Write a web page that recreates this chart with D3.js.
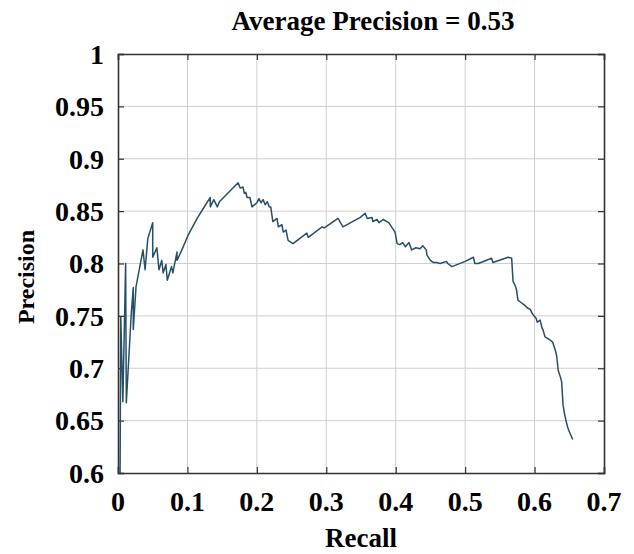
<!DOCTYPE html>
<html>
<head>
<meta charset="utf-8">
<script src="https://cdn.jsdelivr.net/npm/d3@7"></script>
<style>
  html, body { margin: 0; padding: 0; background: #fff; }
  text { font-family: "Liberation Serif", "Times New Roman", serif; font-weight: bold; fill: #000; }
</style>
</head>
<body>
<svg id="chart" width="634" height="554"></svg>
<script>
const title = "Average Precision = 0.53";
const xLabel = "Recall";
const yLabel = "Precision";
const xTicks = [0, 0.1, 0.2, 0.3, 0.4, 0.5, 0.6, 0.7];
const yTicks = [0.6, 0.65, 0.7, 0.75, 0.8, 0.85, 0.9, 0.95, 1];

const recall = [
  0.003, 0.004, 0.007, 0.011, 0.012, 0.019, 0.022, 0.022, 0.026, 0.036,
  0.039, 0.043, 0.050, 0.050, 0.056, 0.059, 0.063, 0.065, 0.069, 0.071,
  0.077, 0.079, 0.085, 0.085, 0.092, 0.101, 0.114, 0.128, 0.133, 0.133,
  0.138, 0.143, 0.146, 0.173, 0.176, 0.180, 0.182, 0.184, 0.186, 0.190,
  0.193, 0.200, 0.203, 0.206, 0.209, 0.212, 0.215, 0.218, 0.220, 0.223,
  0.229, 0.231, 0.236, 0.238, 0.242, 0.245, 0.252, 0.272, 0.274, 0.294,
  0.297, 0.317, 0.324, 0.349, 0.356, 0.359, 0.366, 0.367, 0.373, 0.376,
  0.382, 0.390, 0.394, 0.399, 0.402, 0.406, 0.410, 0.414, 0.419, 0.423,
  0.429, 0.435, 0.439, 0.444, 0.445, 0.450, 0.454, 0.459, 0.464, 0.473,
  0.475, 0.481, 0.500, 0.512, 0.514, 0.519, 0.538, 0.540, 0.562, 0.567,
  0.569, 0.572, 0.574, 0.576, 0.580, 0.586, 0.589, 0.594, 0.596, 0.598,
  0.602, 0.604, 0.608, 0.611, 0.612, 0.615, 0.622, 0.626, 0.630, 0.632,
  0.634, 0.637, 0.639, 0.641, 0.643, 0.646, 0.648, 0.651, 0.655
];
const precision = [
  0.600, 0.749, 0.668, 0.800, 0.667, 0.751, 0.777, 0.737, 0.778, 0.813,
  0.794, 0.824, 0.839, 0.806, 0.815, 0.794, 0.803, 0.791, 0.799, 0.784,
  0.797, 0.791, 0.811, 0.803, 0.813, 0.827, 0.843, 0.858, 0.863, 0.854,
  0.861, 0.854, 0.859, 0.877, 0.872, 0.873, 0.867, 0.868, 0.863, 0.863,
  0.854, 0.858, 0.862, 0.858, 0.861, 0.856, 0.859, 0.854, 0.854, 0.840,
  0.843, 0.835, 0.837, 0.830, 0.832, 0.822, 0.819, 0.829, 0.825, 0.835,
  0.834, 0.843, 0.835, 0.844, 0.848, 0.843, 0.844, 0.840, 0.842, 0.839,
  0.842, 0.839, 0.835, 0.830, 0.819, 0.818, 0.820, 0.816, 0.820, 0.813,
  0.815, 0.814, 0.817, 0.813, 0.808, 0.803, 0.801, 0.801, 0.800, 0.802,
  0.800, 0.797, 0.802, 0.806, 0.800, 0.800, 0.805, 0.801, 0.806, 0.805,
  0.783, 0.779, 0.775, 0.765, 0.763, 0.760, 0.758, 0.756, 0.753, 0.751,
  0.748, 0.744, 0.746, 0.738, 0.737, 0.730, 0.727, 0.725, 0.717, 0.711,
  0.698, 0.692, 0.687, 0.665, 0.657, 0.648, 0.643, 0.638, 0.632
];

const svg = d3.select("#chart");
const W = 634, H = 554;
const margin = { top: 54, right: 30, bottom: 81, left: 118 };
const iw = W - margin.left - margin.right;
const ih = H - margin.top - margin.bottom;

const x = d3.scaleLinear().domain([0, 0.7]).range([margin.left, margin.left + iw]);
const y = d3.scaleLinear().domain([0.6, 1]).range([margin.top + ih, margin.top]);

const fmt = d => d3.format("")(+d.toFixed(2));

// grid
const grid = svg.append("g");
grid.selectAll(".gx").data(xTicks.slice(1, -1)).join("line")
  .attr("x1", d => x(d)).attr("x2", d => x(d))
  .attr("y1", y(0.6)).attr("y2", y(1))
  .attr("stroke", "#cfcfcf").attr("stroke-width", 1);
grid.selectAll(".gy").data(yTicks.slice(1, -1)).join("line")
  .attr("y1", d => y(d)).attr("y2", d => y(d))
  .attr("x1", x(0)).attr("x2", x(0.7))
  .attr("stroke", "#cfcfcf").attr("stroke-width", 1);

// axes with inward ticks
const tl = 6;
const axB = svg.append("g").attr("transform", `translate(0,${y(0.6)})`)
  .call(d3.axisBottom(x).tickValues(xTicks).tickSize(-tl).tickFormat(""));
const axT = svg.append("g").attr("transform", `translate(0,${y(1)})`)
  .call(d3.axisTop(x).tickValues(xTicks).tickSize(-tl).tickFormat(""));
const axL = svg.append("g").attr("transform", `translate(${x(0)},0)`)
  .call(d3.axisLeft(y).tickValues(yTicks).tickSize(-tl).tickFormat(""));
const axR = svg.append("g").attr("transform", `translate(${x(0.7)},0)`)
  .call(d3.axisRight(y).tickValues(yTicks).tickSize(-tl).tickFormat(""));
[axB, axT, axL, axR].forEach(a => {
  a.selectAll("path").attr("stroke", "#333").attr("stroke-width", 1.6);
  a.selectAll("line").attr("stroke", "#333").attr("stroke-width", 1.2);
});

// tick labels
svg.append("g").selectAll("text").data(xTicks).join("text")
  .attr("x", d => x(d)).attr("y", 511)
  .attr("text-anchor", "middle").attr("font-size", 28)
  .text(fmt);
svg.append("g").selectAll("text").data(yTicks).join("text")
  .attr("x", 104).attr("y", d => y(d)).attr("dy", "0.35em")
  .attr("text-anchor", "end").attr("font-size", 28)
  .text(fmt);

// line
const pts = recall.map((r, i) => [r, precision[i]]);
svg.append("path").datum(pts)
  .attr("fill", "none").attr("stroke", "#264f6a").attr("stroke-width", 1.5)
  .attr("stroke-linejoin", "round")
  .attr("d", d3.line().x(d => x(d[0])).y(d => y(d[1])));

// titles
svg.append("text").attr("x", 373).attr("y", 30).attr("text-anchor", "middle")
  .attr("font-size", 27).text(title);
svg.append("text").attr("x", 361).attr("y", 547).attr("text-anchor", "middle")
  .attr("font-size", 27).text(xLabel);
svg.append("text").attr("transform", "translate(34,277) rotate(-90)")
  .attr("text-anchor", "middle").attr("font-size", 24).text(yLabel);
</script>
</body>
</html>
